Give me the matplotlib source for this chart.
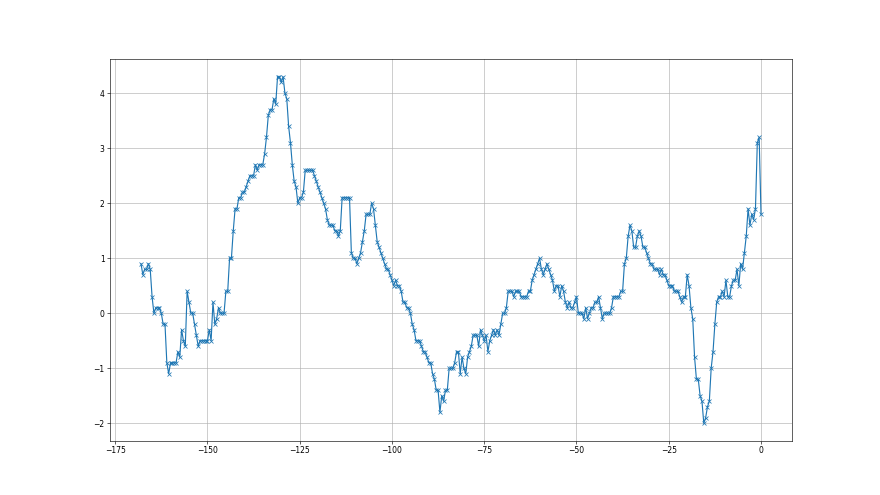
import numpy as np
import matplotlib
matplotlib.use("Agg")
import matplotlib.pyplot as plt

# Values, one every 0.5 on x from -168 to 0
seg1 = [0.9, 0.7, 0.8, 0.8, 0.9, 0.8, 0.3, 0.0, 0.1, 0.1,
        0.1, 0.0, -0.2, -0.2, -0.9, -1.1, -0.9, -0.9, -0.9, -0.9,
        -0.7, -0.8, -0.3, -0.5, -0.6, 0.4, 0.2, 0.0, 0.0, -0.2,
        -0.4, -0.6, -0.5, -0.5, -0.5, -0.5, -0.5, -0.3, -0.5, 0.2,
        -0.2, -0.1, 0.1, 0.0, 0.0, 0.0, 0.4, 0.4, 1.0, 1.0]
seg2 = [1.5, 1.9, 1.9, 2.1, 2.1, 2.2, 2.2, 2.3, 2.4, 2.5,
        2.5, 2.5, 2.7, 2.6, 2.7, 2.7, 2.7, 2.9, 3.2, 3.6,
        3.7, 3.7, 3.9, 3.8, 4.3, 4.3, 4.2, 4.3, 4.0, 3.9,
        3.4, 3.1, 2.7, 2.4, 2.3, 2.0]
seg3 = [2.1, 2.1, 2.2, 2.6, 2.6, 2.6, 2.6, 2.6, 2.5, 2.4,
        2.3, 2.2, 2.1, 2.0, 1.9, 1.7, 1.6, 1.6, 1.6, 1.5,
        1.5, 1.4, 1.5, 2.1, 2.1, 2.1, 2.1, 2.1, 1.1,
        1.0, 1.0, 0.9, 1.0, 1.1, 1.3, 1.5, 1.8, 1.8, 1.8,
        2.0, 1.9, 1.6, 1.3, 1.2, 1.1, 1.0, 0.9, 0.8, 0.8,
        0.7, 0.6, 0.5, 0.6, 0.5]
seg4 = [0.5, 0.4, 0.2, 0.2, 0.1, 0.1, 0.0, -0.2, -0.3, -0.5,
        -0.5, -0.5, -0.6, -0.7, -0.7, -0.8, -0.9, -0.9, -1.1, -1.2,
        -1.4, -1.4,
        -1.8, -1.5, -1.6, -1.4, -1.4, -1.0, -1.0, -1.0, -0.9, -0.7,
        -0.7, -1.1, -0.8, -1.0, -1.1, -0.8, -0.7, -0.6, -0.4, -0.4,
        -0.4, -0.6, -0.3, -0.4, -0.5, -0.4, -0.7, -0.5, -0.4, -0.3,
        -0.4, -0.3, -0.4, -0.2, 0.0, 0.0, 0.1, 0.4]
seg5 = [0.4, 0.4, 0.3, 0.4, 0.4, 0.4, 0.3, 0.3, 0.3, 0.3,
        0.4, 0.4, 0.6, 0.7, 0.8, 0.9, 1.0, 0.8, 0.7, 0.8,
        0.9, 0.8, 0.7, 0.6,
        0.4, 0.5, 0.5, 0.3, 0.5, 0.4, 0.2, 0.1, 0.2, 0.1,
        0.1, 0.2, 0.3, 0.0, 0.0, 0.0, -0.1, 0.1, -0.1, 0.0,
        0.1, 0.1, 0.2, 0.2, 0.3]
seg6 = [0.1, -0.1, 0.0, 0.0, 0.0, 0.0, 0.1, 0.3, 0.3, 0.3,
        0.3, 0.4, 0.4, 0.9, 1.0, 1.4, 1.6, 1.5, 1.2, 1.2,
        1.4, 1.5, 1.4, 1.2, 1.2, 1.1, 1.0, 0.9, 0.9, 0.8,
        0.8, 0.8, 0.7, 0.8, 0.7, 0.7, 0.6, 0.5, 0.5, 0.5,
        0.4, 0.4, 0.4]
seg7 = [0.3, 0.2, 0.3, 0.3, 0.7, 0.5, 0.1, -0.1, -0.8, -1.2,
        -1.2, -1.5, -1.6, -2.0, -1.9, -1.7, -1.6, -1.0, -0.7, -0.2,
        0.2, 0.3, 0.3, 0.4, 0.3, 0.6, 0.3, 0.3, 0.5, 0.6,
        0.6, 0.8, 0.5, 0.9, 0.8, 1.1, 1.4, 1.9, 1.6, 1.8,
        1.7, 1.9, 3.1, 3.2, 1.8]

y = np.array(seg1 + seg2 + seg3 + seg4 + seg5 + seg6 + seg7)
x = np.linspace(-168, 0, len(y))

fig, ax = plt.subplots(figsize=(16, 9), dpi=55)
ax.plot(x, y, marker='x')
ax.grid()
fig.savefig('out.png')
